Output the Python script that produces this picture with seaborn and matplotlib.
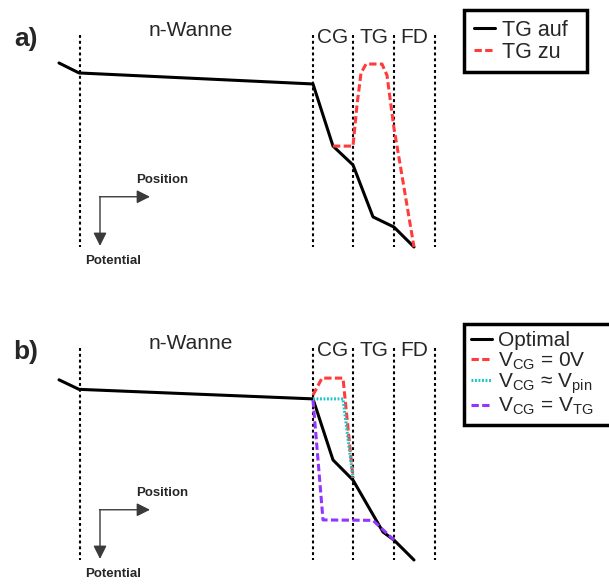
import matplotlib
matplotlib.use("Agg")
import matplotlib.pyplot as plt
import seaborn as sns

sns.set_style("white")
plt.rcParams['font.family'] = ['Liberation Sans', 'DejaVu Sans']
plt.rcParams['mathtext.fontset'] = 'custom'
plt.rcParams['mathtext.rm'] = 'Liberation Sans'
plt.rcParams['mathtext.it'] = 'Liberation Sans'

# ---- data (position -> potential, potential grows downward) ----
region_edges = [80, 313, 353, 394, 435]
region_labels = ["CG", "TG", "FD"]

# panel a
a_open_pos = [59, 79, 313, 333, 353, 373, 394, 414]
a_open_pot = [0.132, 0.179, 0.231, 0.524, 0.613, 0.858, 0.906, 1.0]
a_closed_pos = [333, 353, 357, 361, 366, 382, 387, 394, 414]
a_closed_pot = [0.524, 0.524, 0.33, 0.18, 0.137, 0.137, 0.19, 0.44, 1.0]

# panel b
b_opt_pos = [59, 79, 313, 333, 353, 383, 394, 414]
b_opt_pot = [0.15, 0.195, 0.24, 0.528, 0.623, 0.868, 0.906, 1.0]
b_0v_pos = [313, 322, 343, 353]
b_0v_pot = [0.222, 0.142, 0.142, 0.613]
b_pin_pos = [313, 343, 353]
b_pin_pot = [0.24, 0.24, 0.613]
b_tg_pos = [313, 323, 373, 394]
b_tg_pot = [0.245, 0.811, 0.813, 0.906]

RED = "#ff3b3b"
CYAN = "#19c6c6"
PURPLE = "#9236ff"

W, H = 609, 585
fig = plt.figure(figsize=(W / 100, H / 100), dpi=100)

def make_ax(py0, py1, top, bottom):
    ax = fig.add_axes([0, 1 - py1 / H, 1, (py1 - py0) / H])
    ax.set_xlim(0, W)
    span = bottom - top
    ax.set_ylim((py1 - top) / span, (py0 - top) / span)
    ax.axis("off")
    return ax

axA = make_ax(0, 292, 35, 247)
axB = make_ax(292, 585, 348, 560)

def decorate(ax, tag):
    ax.vlines(region_edges, 0, 1, colors="black", linestyles=(0, (1.4, 1.4)), lw=1.5)
    ax.text(26, 0.02, tag, fontsize=19, fontweight="bold", ha="center", va="center")
    ax.text(191, -0.02, "n-Wanne", fontsize=15, ha="center", va="center")
    centers = [(region_edges[i] + region_edges[i + 1]) / 2 for i in range(1, 4)]
    for c, lab in zip(centers, region_labels):
        ax.text(c, 0.01, lab, fontsize=15, ha="center", va="center")
    # axis arrows
    ap = dict(arrowstyle="-|>", lw=1.0, color="#3a3a3a", mutation_scale=20,
              shrinkA=0, shrinkB=0)
    ax.annotate("", xy=(150, 0.763), xytext=(99.5, 0.763), arrowprops=ap)
    ax.annotate("", xy=(100, 0.995), xytext=(100, 0.763), arrowprops=ap)
    ax.text(162, 0.684, "Position", fontsize=9.5, fontweight="bold", ha="center", va="center")
    ax.text(113, 1.065, "Potential", fontsize=9.5, fontweight="bold", ha="center", va="center")

decorate(axA, "a)")
decorate(axB, "b)")

lw = 2.2
dash = (0, (2.4, 1.1))
sns.lineplot(x=a_open_pos, y=a_open_pot, sort=False, estimator=None, ax=axA,
             color="black", lw=lw, label="TG auf")
sns.lineplot(x=a_closed_pos, y=a_closed_pot, sort=False, estimator=None, ax=axA,
             color=RED, lw=lw, linestyle=dash, label="TG zu")

sns.lineplot(x=b_opt_pos, y=b_opt_pot, sort=False, estimator=None, ax=axB,
             color="black", lw=lw, label="Optimal", zorder=3)
sns.lineplot(x=b_0v_pos, y=b_0v_pot, sort=False, estimator=None, ax=axB,
             color=RED, lw=lw, linestyle=dash,
             label=r"V$_{\mathrm{CG}}$ = 0V", zorder=4)
sns.lineplot(x=b_pin_pos, y=b_pin_pot, sort=False, estimator=None, ax=axB,
             color=CYAN, lw=lw, linestyle=(0, (0.6, 0.55)),
             label=r"V$_{\mathrm{CG}}$ ≈ V$_{\mathrm{pin}}$", zorder=5)
sns.lineplot(x=b_tg_pos, y=b_tg_pot, sort=False, estimator=None, ax=axB,
             color=PURPLE, lw=lw, linestyle=dash,
             label=r"V$_{\mathrm{CG}}$ = V$_{\mathrm{TG}}$", zorder=4)

leg_kw = dict(loc="upper left", handlelength=1.0, handletextpad=0.3,
              borderaxespad=0, fancybox=False, mode="expand",
              framealpha=1, edgecolor="black", bbox_transform=fig.transFigure)
legA = axA.legend(bbox_to_anchor=(464 / W, 1 - 72 / H, 123 / W, 62 / H),
                  fontsize=15.5, labelspacing=0.05, borderpad=0.45, **leg_kw)
legA.get_frame().set_linewidth(2.5)
legB = axB.legend(bbox_to_anchor=(464 / W, 1 - 428 / H, 160 / W, 104 / H),
                  fontsize=15, labelspacing=0.0, borderpad=0.35, **leg_kw)
legB.get_frame().set_linewidth(2.5)

fig.savefig("out.png", dpi=100)
